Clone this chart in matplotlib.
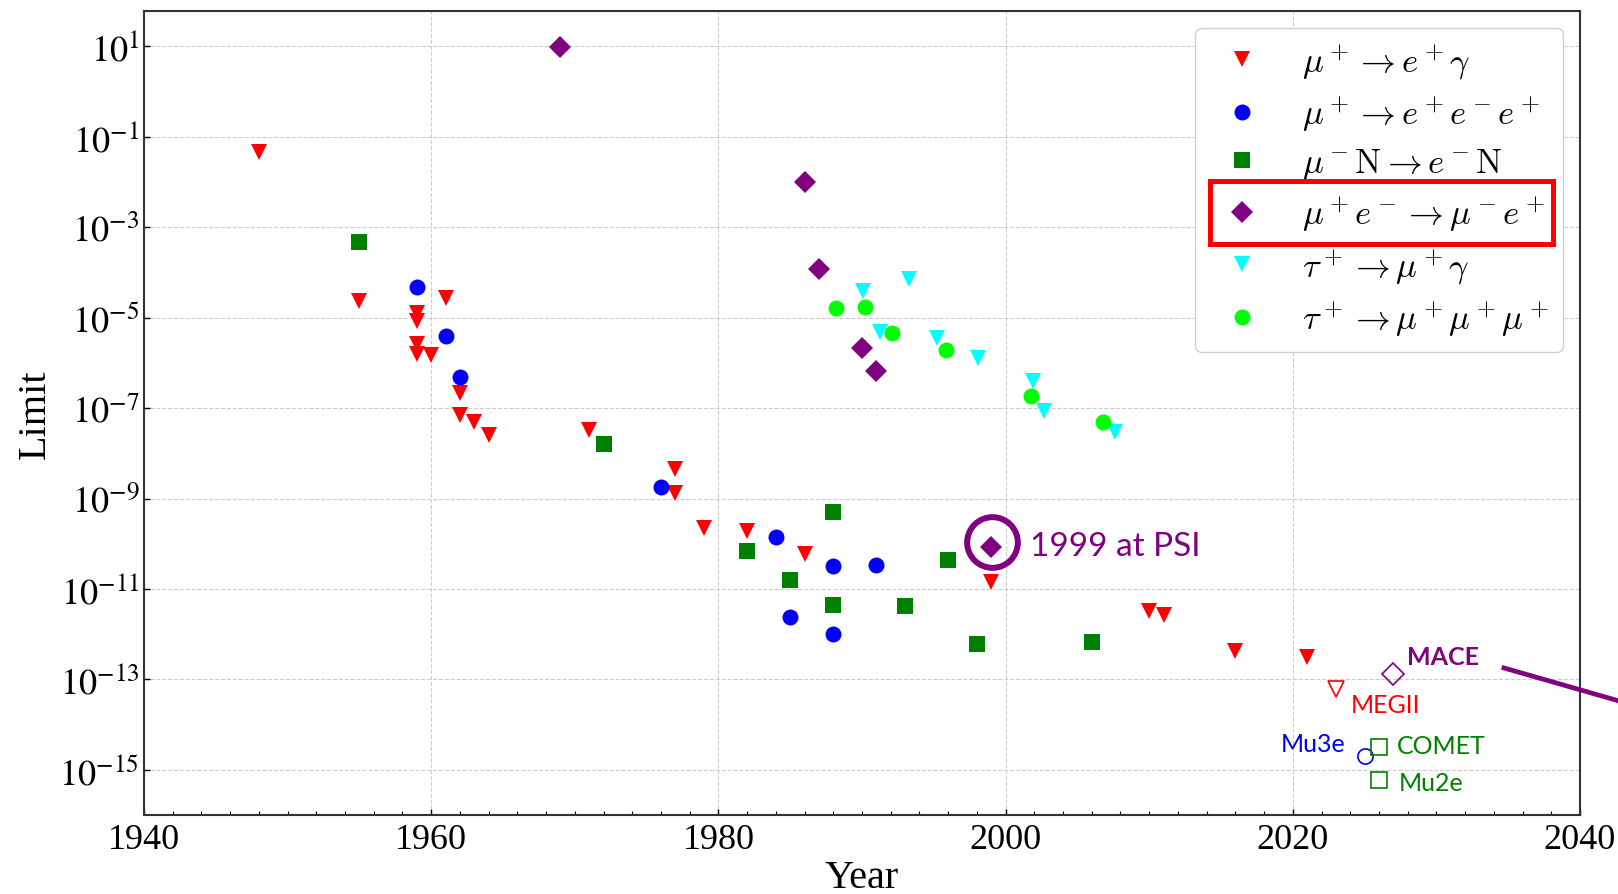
import math
import matplotlib
matplotlib.use('Agg')
import matplotlib.pyplot as plt
from matplotlib.ticker import FixedLocator, MultipleLocator, NullLocator, FuncFormatter
from matplotlib.lines import Line2D
from matplotlib.patches import Rectangle
from matplotlib.font_manager import FontProperties
import matplotlib.transforms as mtransforms

# ---------------- data ----------------
meg_years = [1948, 1955, 1959, 1959, 1959, 1959, 1960, 1961, 1962, 1962, 1963, 1964,
             1971, 1977, 1977, 1979, 1982, 1986, 1999, 2010, 2011, 2016, 2021]
meg_limits = [4.6e-2, 2.4e-5, 1.3e-5, 8.5e-6, 2.6e-6, 1.6e-6, 1.5e-6, 2.8e-5, 2.2e-7, 7e-8, 5e-8, 2.5e-8,
              3.3e-8, 4.5e-9, 1.3e-9, 2.2e-10, 1.9e-10, 5.9e-11, 1.4e-11, 3.2e-12, 2.6e-12, 4.3e-13, 3.2e-13]

m3e_years = [1959, 1961, 1962, 1976, 1984, 1985, 1988, 1988, 1991]
m3e_limits = [4.9e-5, 4e-6, 4.9e-7, 1.8e-9, 1.4e-10, 2.4e-12, 3.3e-11, 1e-12, 3.4e-11]

mec_years = [1955, 1972, 1982, 1985, 1988, 1988, 1993, 1996, 1998, 2006]
mec_limits = [4.7e-4, 1.6e-8, 7e-11, 1.6e-11, 5e-10, 4.5e-12, 4.2e-12, 4.4e-11, 6e-13, 6.7e-13]

mum_years = [1969, 1986, 1987, 1990, 1991, 1999]
mum_limits = [9.5, 1e-2, 1.2e-4, 2.1e-6, 6.5e-7, 8.3e-11]

tmg_years = [1990.1, 1991.25, 1993.3, 1995.25, 1998.1, 2001.9, 2002.7, 2007.6]
tmg_limits = [4e-5, 4.9e-6, 7.2e-5, 3.5e-6, 1.3e-6, 3.9e-7, 8.5e-8, 3e-8]

t3m_years = [1988.2, 1990.2, 1992.1, 1995.85, 2001.75, 2006.8]
t3m_limits = [1.6e-5, 1.7e-5, 4.5e-6, 1.9e-6, 1.9e-7, 4.9e-8]

# future experiments (projected sensitivities)
fut_names = ['MEGII', 'MACE', 'Mu3e', 'COMET', 'Mu2e']
fut_years = [2023, 2027, 2025, 2026, 2026]
fut_limits = [6.2e-14, 1.3e-13, 2e-15, 3.2e-15, 6e-16]

legend_labels = [r'$\mu^+ \rightarrow e^+ \gamma$',
                 r'$\mu^+ \rightarrow e^+ e^- e^+$',
                 r'$\mu^- \mathrm{N} \rightarrow e^- \mathrm{N}$',
                 r'$\mu^+ e^- \rightarrow \mu^- e^+$',
                 r'$\tau^+ \rightarrow \mu^+ \gamma$',
                 r'$\tau^+ \rightarrow \mu^+ \mu^+ \mu^+$']

x_ticks = [1940, 1960, 1980, 2000, 2020, 2040]
y_exponents = [1, -1, -3, -5, -7, -9, -11, -13, -15]

# ---------------- style ----------------
plt.rcParams['font.family'] = 'serif'
plt.rcParams['font.serif'] = ['Liberation Serif', 'DejaVu Serif']
plt.rcParams['mathtext.fontset'] = 'stix'

W, H = 1618, 895
fig = plt.figure(figsize=(W / 100, H / 100), dpi=100)
ax = fig.add_axes([144 / W, 1 - 816 / H, (1580 - 144) / W, (816 - 12) / H])
ax.set_yscale('log')
ax.set_xlim(1940, 2040)
ax.set_ylim(1e-16, 10 ** 1.785)

MS = 11.5
series = [
    (meg_years, meg_limits, 'v', 'red'),
    (m3e_years, m3e_limits, 'o', 'blue'),
    (mec_years, mec_limits, 's', 'green'),
    (mum_years, mum_limits, 'D', 'purple'),
    (tmg_years, tmg_limits, 'v', 'cyan'),
    (t3m_years, t3m_limits, 'o', 'lime'),
]
handles = []
for (xs, ys, mk, col), lab in zip(series, legend_labels):
    ms = MS if mk != 'D' else MS * 0.95
    h, = ax.plot(xs, ys, linestyle='none', marker=mk, color=col, markersize=ms,
                 markeredgewidth=0, label=lab, zorder=3)
    handles.append(h)

# hollow future markers
fut_style = {'MEGII': ('v', 'red'), 'MACE': ('D', 'purple'), 'Mu3e': ('o', 'blue'),
             'COMET': ('s', 'green'), 'Mu2e': ('s', 'green')}
fut_text = {'MEGII': ((11, -11), 'left', 'normal'),
            'MACE': ((10, 13), 'left', 'bold'),
            'Mu3e': ((-14, 9), 'right', 'normal'),
            'COMET': ((13, 1), 'left', 'normal'),
            'Mu2e': ((14, -2), 'left', 'normal')}
for name, xv, yv in zip(fut_names, fut_years, fut_limits):
    mk, col = fut_style[name]
    ax.plot([xv], [yv], linestyle='none', marker=mk, markersize=MS * 0.95, markerfacecolor='none',
            markeredgecolor=col, markeredgewidth=1.2, zorder=3)
    off, ha, wt = fut_text[name]
    ax.annotate(name, (xv, yv), xytext=off, textcoords='offset points', ha=ha, va='center',
                color=col, fontsize=18, fontweight=wt, family=['Lato', 'DejaVu Sans'])

# 1999 at PSI highlight
x99, y99 = mum_years[-1], mum_limits[-1]
circ_tr = mtransforms.offset_copy(ax.transData, fig=fig, x=1, y=5, units='dots')
ax.plot([x99], [y99], linestyle='none', marker='o', markersize=36.5, markerfacecolor='none',
        markeredgecolor='purple', markeredgewidth=4.3, transform=circ_tr, zorder=4)
ax.annotate('1999 at PSI', (x99, y99), xytext=(28, 1), textcoords='offset points',
            ha='left', va='center', color='purple', fontsize=24, family=['Lato', 'DejaVu Sans'])

# axes formatting
ax.xaxis.set_major_locator(FixedLocator(x_ticks))
ax.xaxis.set_minor_locator(MultipleLocator(2))
ax.yaxis.set_major_locator(FixedLocator([10.0 ** e for e in y_exponents]))
ax.yaxis.set_minor_locator(NullLocator())
ax.yaxis.set_major_formatter(FuncFormatter(lambda v, p: r'$10^{%d}$' % round(math.log10(v))))
ax.xaxis.set_major_formatter(FuncFormatter(lambda v, p: '%d' % v))
ax.tick_params(which='both', direction='in', labelsize=26, colors='black')
ax.tick_params(which='major', length=4, width=1)
ax.tick_params(which='minor', length=3, width=0.8)
ax.tick_params(axis='x', pad=6)
for s in ax.spines.values():
    s.set_color('#333333')
    s.set_linewidth(1.5)
ax.grid(True, which='major', linestyle='--', color='#cccccc', linewidth=0.8, zorder=0)
ax.set_axisbelow(True)
ax.set_xlabel('Year', fontsize=29, labelpad=2)
ax.set_ylabel('Limit', fontsize=29, labelpad=4)

leg = ax.legend(handles=handles, loc='upper right', prop=FontProperties(size=25, math_fontfamily='cm'),
                borderaxespad=0.49, handlelength=1.9, handletextpad=0.8, labelspacing=0.38,
                borderpad=0.4, fancybox=True, framealpha=1.0, edgecolor='#d0d0d0')
leg.set_zorder(5)

# purple pointer line heading off the slide
fig.add_artist(Line2D([1501.7 / W, 1640 / W], [1 - 668.3 / H, 1 - 708 / H], color='purple',
                      linewidth=3.4, transform=fig.transFigure, solid_capstyle='butt'))

# red highlight box around the muonium legend entry
fig.canvas.draw()
r = fig.canvas.get_renderer()
fb = leg.get_frame().get_window_extent(r)
hb = leg.legend_handles[3].get_window_extent(r)
yc = (hb.y0 + hb.y1) / 2
box = Rectangle((fb.x0 + 15, yc - 31.5), (fb.x1 - 10) - (fb.x0 + 15), 63, fill=False,
                edgecolor='red', linewidth=3.6, transform=mtransforms.IdentityTransform(), zorder=10)
fig.add_artist(box)

fig.savefig('out.png', dpi=100)
